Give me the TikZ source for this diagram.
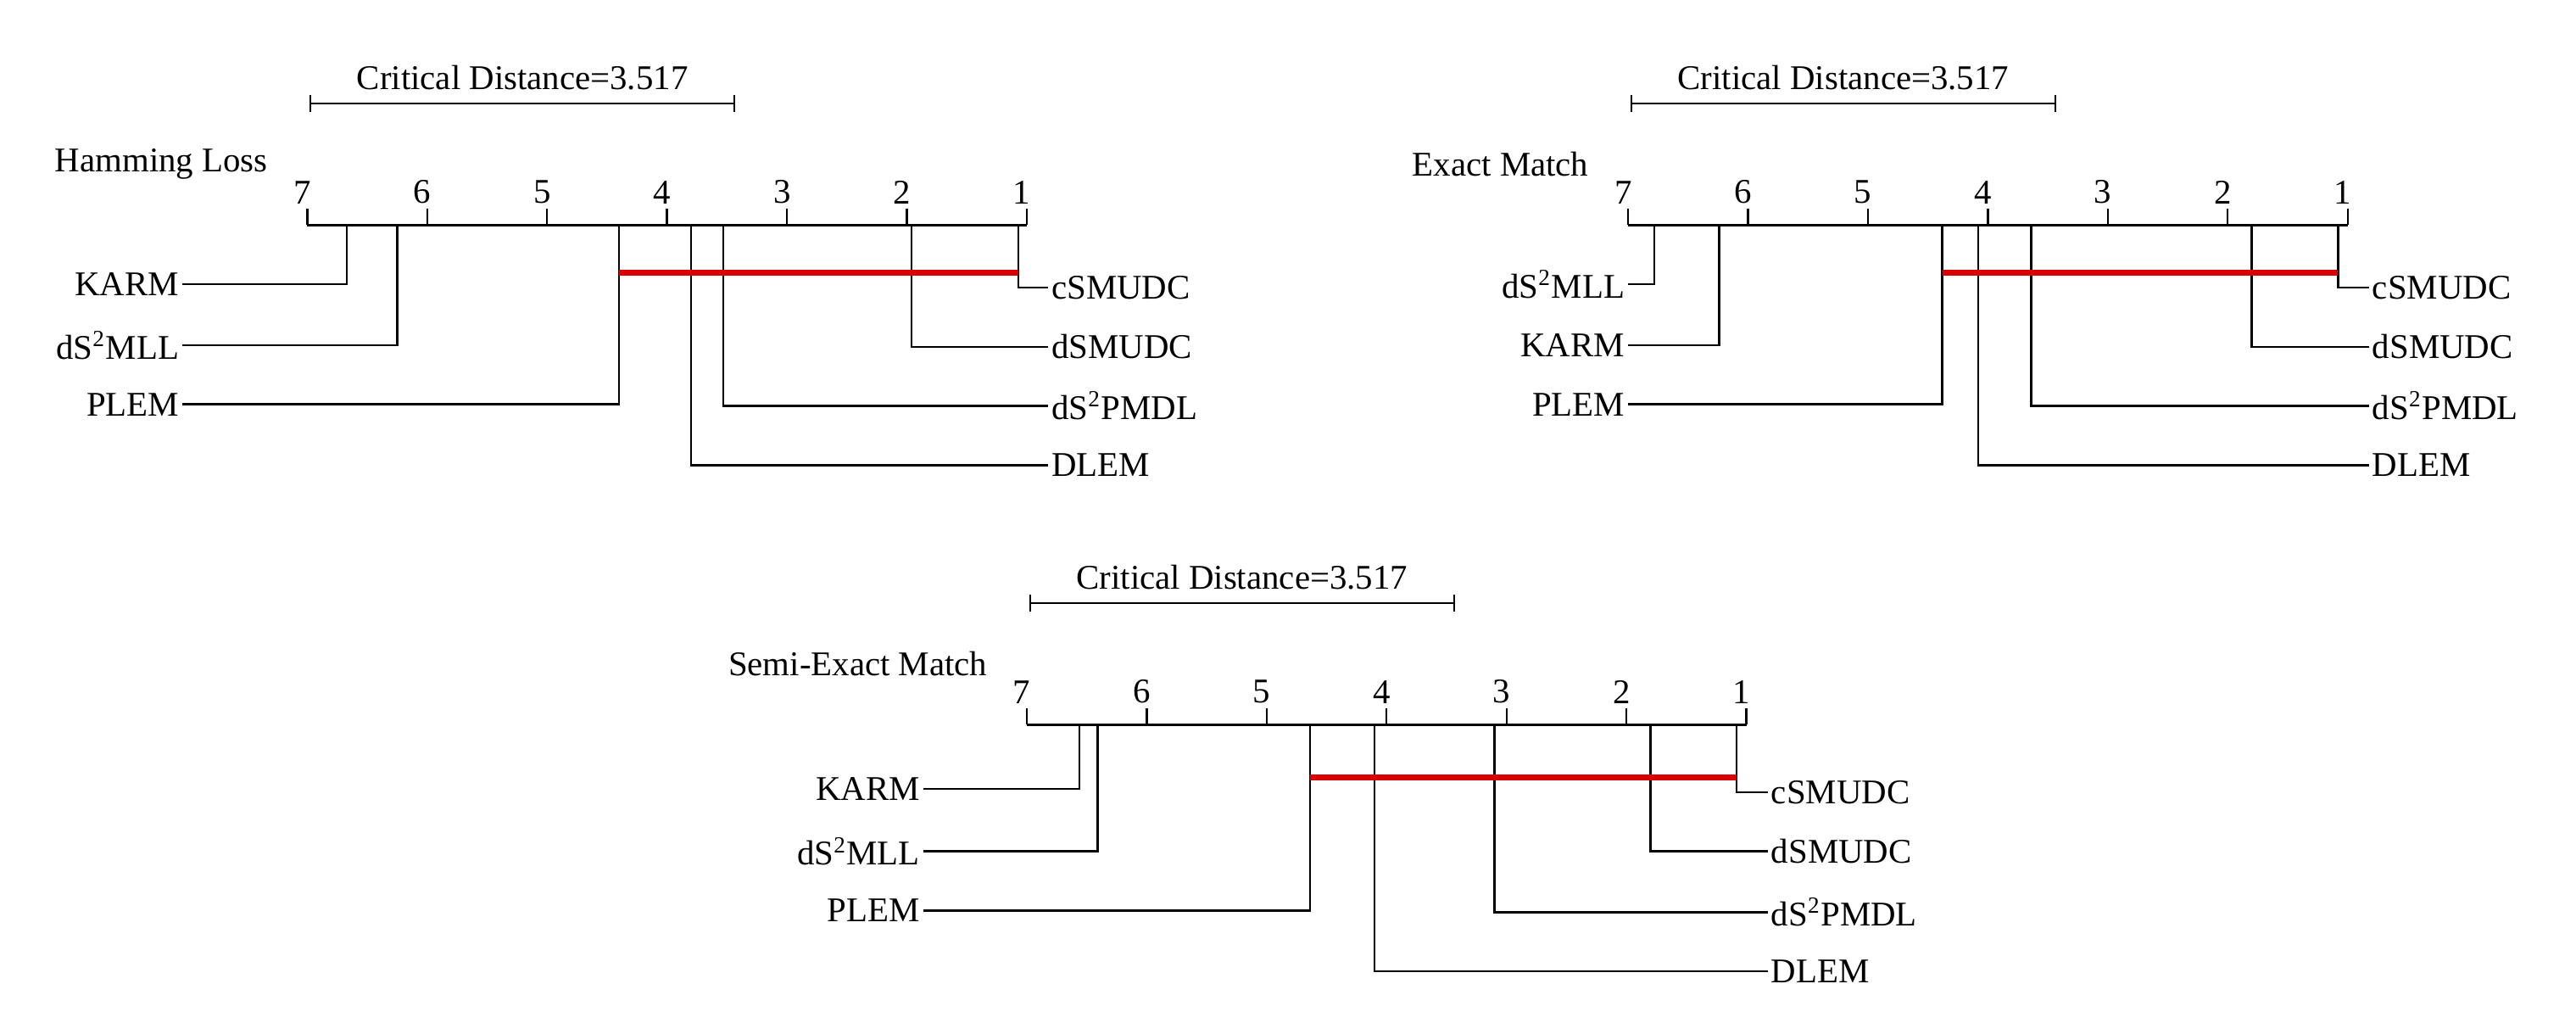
\documentclass[tikz,border=0pt]{standalone}
\usepackage{fontspec}
\setmainfont{Liberation Serif}
\begin{document}
\begin{tikzpicture}[x=0.02cm,y=-0.02cm,
  ax/.style={line width=0.7pt},
  cd/.style={red!85!black,line width=2pt},
  lab/.style={font=\fontsize{12}{14}\selectfont,inner sep=1pt},
  lft/.style={lab,anchor=east},
  rgt/.style={lab,anchor=west}]
\useasboundingbox (0,0) rectangle (1568,622);
% #1 x of rank 7, #2 y of axis, #3 title
\newcommand\cdpanel[4]{%
  \begin{scope}[shift={(#1,#2)}]
  \draw[ax] (0,0) -- (438,0);
  \foreach \r in {1,...,7}{
    \draw[ax] ({(7-\r)*73},0) -- ({(7-\r)*73},-10);
    \node[lab,anchor=south] at ({(7-\r)*73-3},-11) {\r};}
  \draw[ax] (2,-74) -- ++(258,0);
  \draw[ax] (2,-79) -- (2,-69);
  \draw[ax] (260,-79) -- (260,-69);
  \node[lab,anchor=south] (cdt) at (131,-80) {Critical Distance=3.517};
  \node[lab,anchor=east] (ttl) at (-22,-37) {#3};
  #4
  \end{scope}}
% \lrow{rank}{y}{x end}{name}{label}
\newcommand\lrow[5]{%
  \node[lft] (#4) at (#3,#2) {#5};
  \coordinate (#4r) at ({(7-#1)*73},0);
  \draw[ax] (#4.east) -| (#4r);}
\newcommand\rrow[5]{%
  \node[rgt] (#4) at (#3,#2) {#5};
  \coordinate (#4r) at ({(7-#1)*73},0);
  \draw[ax] (#4.west) -| (#4r);}
\newcommand\redbar[3]{\draw[cd] ({(7-#1)*73},#3) -- ({(7-#2)*73},#3);}

\cdpanel{187}{137}{Hamming Loss}{
  \lrow{6.67}{36}{-76}{a1}{KARM}
  \lrow{6.25}{73}{-76}{a2}{dS\textsuperscript{2}MLL}
  \lrow{4.40}{109}{-76}{a3}{PLEM}
  \rrow{1.07}{38}{451}{a4}{cSMUDC}
  \rrow{1.96}{74}{451}{a5}{dSMUDC}
  \rrow{3.53}{110}{451}{a6}{dS\textsuperscript{2}PMDL}
  \rrow{3.80}{146}{451}{a7}{DLEM}
  \redbar{4.40}{1.07}{29}}

\cdpanel{991}{137}{Exact Match}{
  \lrow{6.78}{36}{0}{b1}{dS\textsuperscript{2}MLL}
  \lrow{6.24}{73}{0}{b2}{KARM}
  \lrow{4.38}{109}{0}{b3}{PLEM}
  \rrow{1.08}{38}{451}{b4}{cSMUDC}
  \rrow{1.80}{74}{451}{b5}{dSMUDC}
  \rrow{3.64}{110}{451}{b6}{dS\textsuperscript{2}PMDL}
  \rrow{4.08}{146}{451}{b7}{DLEM}
  \redbar{4.38}{1.08}{29}}

\cdpanel{625}{441}{Semi-Exact Match}{
  \lrow{6.56}{39}{-63}{c1}{KARM}
  \lrow{6.41}{77}{-63}{c2}{dS\textsuperscript{2}MLL}
  \lrow{4.64}{113}{-63}{c3}{PLEM}
  \rrow{1.08}{41}{451}{c4}{cSMUDC}
  \rrow{1.80}{77}{451}{c5}{dSMUDC}
  \rrow{3.10}{114}{451}{c6}{dS\textsuperscript{2}PMDL}
  \rrow{4.10}{150}{451}{c7}{DLEM}
  \redbar{4.64}{1.08}{32}}
\end{tikzpicture}
\end{document}
